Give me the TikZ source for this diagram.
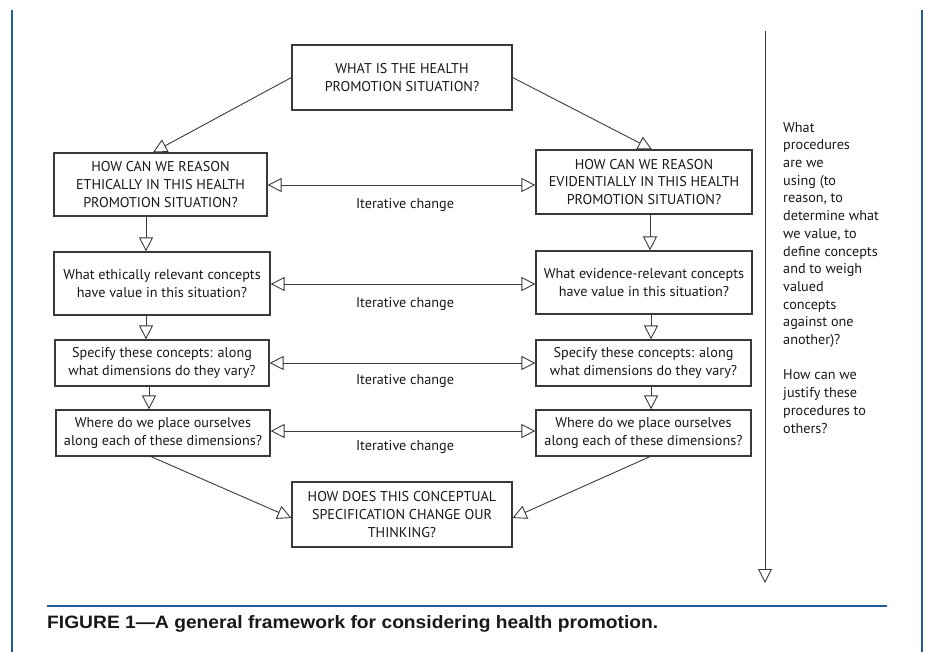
\documentclass[tikz,border=0pt]{standalone}
\usepackage{fontspec}
\setmainfont{PT Sans}
\newfontfamily\capfont{Liberation Sans}
\usetikzlibrary{arrows.meta}
\definecolor{edgegray}{HTML}{3A3A3A}
\definecolor{txt}{HTML}{1A1818}
\definecolor{frameblue}{HTML}{1F5C99}
\tikzset{
  box/.style={draw=edgegray, line width=1.2pt, fill=white, align=center, inner sep=2pt,
    text=txt, font=\fontsize{14.2}{17.7}\selectfont},
  arr/.style={draw=edgegray, line width=0.9pt, -{Triangle[open,length=14pt,width=14pt,line width=0.9pt]}},
  darr/.style={draw=edgegray, line width=0.9pt, {Triangle[open,length=14pt,width=14pt,line width=0.9pt]}-{Triangle[open,length=14pt,width=14pt,line width=0.9pt]}},
  lbl/.style={text=txt, font=\fontsize{14.2}{16}\selectfont, inner sep=0pt},
}
\begin{document}
\begin{tikzpicture}[x=1pt,y=-1pt]
\useasboundingbox (0,0) rectangle (926,652);
% frame
\draw[frameblue, line width=2.5pt] (12,10) -- (12,652);
\draw[frameblue, line width=2.5pt] (922,10) -- (922,652);
\draw[frameblue, line width=1.2pt] (47,606) -- (887,606);
\node[anchor=base west, inner sep=0pt, text=txt] (cap) at (47,628)
  {\resizebox{611pt}{13pt}{\capfont\bfseries FIGURE 1—A general framework for considering health promotion.}};

% boxes
\node[box, minimum width=220pt, minimum height=65pt] (top) at (402,77.5)
  {WHAT IS THE HEALTH\\PROMOTION SITUATION?};
\node[box, minimum width=213pt, minimum height=63pt] (L1) at (160.5,184.5)
  {HOW CAN WE REASON\\ETHICALLY IN THIS HEALTH\\PROMOTION SITUATION?};
\node[box, minimum width=216pt, minimum height=64pt] (R1) at (644,182)
  {HOW CAN WE REASON\\EVIDENTIALLY IN THIS HEALTH\\PROMOTION SITUATION?};
\node[box, minimum width=216pt, minimum height=63pt] (L2) at (162,283.5)
  {What ethically relevant concepts\\have value in this situation?};
\node[box, minimum width=216pt, minimum height=63pt] (R2) at (644,282.5)
  {What evidence-relevant concepts\\have value in this situation?};
\node[box, minimum width=214pt, minimum height=46pt] (L3) at (162,363)
  {Specify these concepts: along\\what dimensions do they vary?};
\node[box, minimum width=215pt, minimum height=46pt] (R3) at (643.5,363)
  {Specify these concepts: along\\what dimensions do they vary?};
\node[box, minimum width=214pt, minimum height=46pt] (L4) at (163,433)
  {Where do we place ourselves\\along each of these dimensions?};
\node[box, minimum width=215pt, minimum height=46pt] (R4) at (643.5,433)
  {Where do we place ourselves\\along each of these dimensions?};
\node[box, minimum width=220pt, minimum height=65pt] (B) at (402,514.5)
  {HOW DOES THIS CONCEPTUAL\\SPECIFICATION CHANGE OUR\\THINKING?};

% diagonal arrows
\draw[arr] (top.west) -- ([xshift=-7.5pt]L1.north);
\draw[arr] (top.east) -- ([xshift=8pt]R1.north);
\draw[arr] ([xshift=-12pt]L4.south) -- ([yshift=-3.5pt]B.west);
\draw[arr] ([xshift=6.5pt]R4.south) -- ([yshift=-3.5pt]B.east);

% vertical arrows
\draw[arr] ([xshift=-14.5pt]L1.south) -- ([xshift=-16pt]L2.north);
\draw[arr] ([xshift=-16pt]L2.south) -- ([xshift=-16pt]L3.north);
\draw[arr] ([xshift=-13pt]L3.south) -- ([xshift=-14pt]L4.north);
\draw[arr] ([xshift=6pt]R1.south) -- ([xshift=6pt]R2.north);
\draw[arr] ([xshift=7pt]R2.south) -- ([xshift=7.5pt]R3.north);
\draw[arr] ([xshift=7.5pt]R3.south) -- ([xshift=7.5pt]R4.north);

% iterative change arrows
\coordinate (h1) at (0,185);
\coordinate (h2) at (0,284);
\coordinate (h3) at (0,363);
\coordinate (h4) at (0,431);
\draw[darr] (L1.east |- h1) -- (R1.west |- h1);
\draw[darr] (L2.east |- h2) -- (R2.west |- h2);
\draw[darr] (L3.east |- h3) -- (R3.west |- h3);
\draw[darr] (L4.east |- h4) -- (R4.west |- h4);
\node[lbl] (t1) at (405,205) {Iterative change};
\node[lbl] (t2) at (405,304) {Iterative change};
\node[lbl] (t3) at (405,381) {Iterative change};
\node[lbl] (t4) at (405,447) {Iterative change};

% right-hand procedure arrow
\coordinate (vt) at (765,31);
\coordinate (vb) at (765,583);
\draw[arr] (vt) -- (vb);
\node[anchor=north west, inner sep=0pt, align=left, text=txt,
  font=\fontsize{14.2}{17.7}\selectfont] (side) at (783,122)
  {What\\procedures\\are we\\using (to\\reason, to\\determine what\\we value, to\\define concepts\\and to weigh\\valued\\concepts\\against one\\another)?\\[17.7pt]How can we\\justify these\\procedures to\\others?};
\end{tikzpicture}
\end{document}
